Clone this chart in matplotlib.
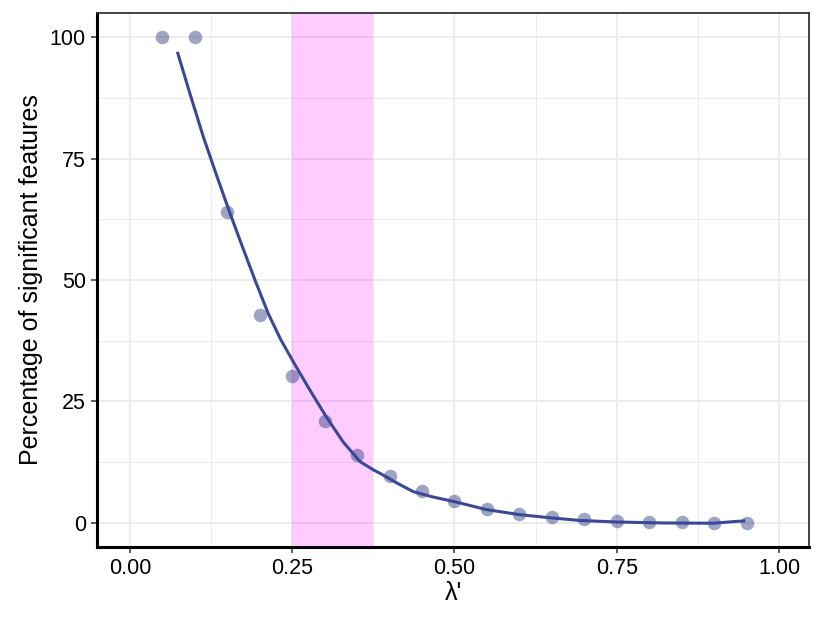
import matplotlib
matplotlib.use("Agg")
import matplotlib.pyplot as plt
from matplotlib.ticker import MultipleLocator

plt.rcParams['font.family'] = ['Liberation Sans', 'DejaVu Sans']

# observed points
lam = [0.05, 0.10, 0.15, 0.20, 0.25, 0.30, 0.35, 0.40, 0.45, 0.50,
       0.55, 0.60, 0.65, 0.70, 0.75, 0.80, 0.85, 0.90, 0.95]
pct = [100, 100, 64.0, 42.8, 30.3, 20.9, 14.0, 9.7, 6.6, 4.4,
       2.9, 1.85, 1.1, 0.7, 0.3, 0.1, 0.05, 0.0, 0.0]

# smoothed curve
fit_x = [0.073, 0.0924, 0.113, 0.1336, 0.154, 0.172, 0.1926, 0.213, 0.232,
         0.254, 0.2773, 0.303, 0.3287, 0.3544, 0.3749, 0.385, 0.411, 0.4365,
         0.467, 0.498, 0.5496, 0.601, 0.652, 0.693, 0.75, 0.82, 0.898, 0.948]
fit_y = [97.0, 88.4, 79.5, 71.5, 63.8, 57.3, 50.0, 43.1, 37.8,
         32.6, 27.3, 21.7, 16.6, 12.6, 10.9, 10.2, 8.2, 6.4,
         5.3, 4.4, 2.7, 1.65, 0.96, 0.47, 0.15, -0.05, -0.1, 0.4]

band = (0.25, 0.375)

xticks = [0.00, 0.25, 0.50, 0.75, 1.00]
xticklabels = ["0.00", "0.25", "0.50", "0.75", "1.00"]
yticks = [0, 25, 50, 75, 100]

fig = plt.figure(figsize=(8.3, 6.23), dpi=100)
ax = fig.add_axes([97/830, 1-547/623, (809-97)/830, (547-13)/623])

ax.set_xlim(-0.0508, 1.0462)
ax.set_ylim(-5, 105)

ax.xaxis.set_minor_locator(MultipleLocator(0.125))
ax.yaxis.set_minor_locator(MultipleLocator(12.5))
ax.set_xticks(xticks)
ax.set_xticklabels(xticklabels)
ax.set_yticks(yticks)
ax.grid(which='major', color='#EBEBEB', linewidth=1.3, zorder=0)
ax.grid(which='minor', color='#EBEBEB', linewidth=0.7, zorder=0)
ax.set_axisbelow(True)

ax.axvspan(band[0], band[1], color='#FF00FF', alpha=0.2, linewidth=0, zorder=1)

ax.scatter(lam, pct, s=95, color='#3F4A8A', alpha=0.5, linewidths=0, zorder=3)
ax.plot(fit_x, fit_y, color='#3B4994', linewidth=2.2, zorder=4,
        solid_capstyle='butt', solid_joinstyle='round')

for side in ['top', 'right']:
    ax.spines[side].set_color('#333333')
    ax.spines[side].set_linewidth(1.3)
for side in ['left', 'bottom']:
    ax.spines[side].set_color('black')
    ax.spines[side].set_linewidth(2.2)

ax.tick_params(which='major', direction='out', length=4, width=1.1, color='#333333',
               labelsize=15.5, labelcolor='black', pad=4)
ax.tick_params(which='minor', length=0)

ax.set_xlabel("λ'", fontsize=18, labelpad=1)
ax.set_ylabel("Percentage of significant features", fontsize=18, labelpad=5)

fig.savefig("out.png", dpi=100)
